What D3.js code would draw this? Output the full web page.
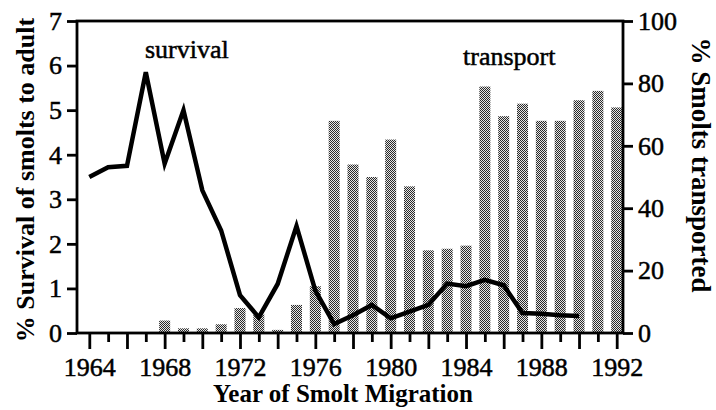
<!DOCTYPE html>
<html>
<head>
<meta charset="utf-8">
<script src="https://cdn.jsdelivr.net/npm/d3@7"></script>
<style>
  body { margin: 0; background: #fff; }
  svg { display: block; }
</style>
</head>
<body>
<div class="wrapper"></div>
<script>
//Data
var survivalYears = [1964, 1965, 1966, 1967, 1968, 1969, 1970, 1971, 1972, 1973, 1974, 1975, 1976, 1977,
  1978, 1979, 1980, 1981, 1982, 1983, 1984, 1985, 1986, 1987, 1988, 1989, 1990];
var survival = [3.5, 3.72, 3.75, 5.85, 3.8, 5.0, 3.2, 2.3, 0.85, 0.35, 1.1, 2.4, 0.95, 0.2,
  0.4, 0.63, 0.33, 0.48, 0.63, 1.11, 1.05, 1.19, 1.07, 0.45, 0.43, 0.4, 0.38];
var transportYears = [1968, 1969, 1970, 1971, 1972, 1973, 1974, 1975, 1976, 1977, 1978, 1979, 1980,
  1981, 1982, 1983, 1984, 1985, 1986, 1987, 1988, 1989, 1990, 1991, 1992];
var transport = [4, 1.5, 1.5, 2.8, 8, 6, 1, 9, 15, 68, 54, 50, 62,
  47, 26.5, 27, 28, 79, 69.5, 73.5, 68, 68, 74.6, 77.6, 72.3];
var yearLabels = [1964, 1968, 1972, 1976, 1980, 1984, 1988, 1992];
var leftTicks = [0, 1, 2, 3, 4, 5, 6, 7];
var rightTicks = [0, 20, 40, 60, 80, 100];

var W = 716, H = 410;
var serif = "'Liberation Serif', 'Times New Roman', serif";

var svg = d3.select(".wrapper").append("svg")
    .attr("width", W)
    .attr("height", H);

//Stipple pattern for the bars (checkerboard dither)
var pat = svg.append("defs").append("pattern")
    .attr("id", "stipple")
    .attr("patternUnits", "userSpaceOnUse")
    .attr("width", 2)
    .attr("height", 2);
pat.append("rect").attr("width", 2).attr("height", 2).attr("fill", "#e6e6e6");
pat.append("rect").attr("x", 0).attr("y", 0).attr("width", 1).attr("height", 1).attr("fill", "#2a2a2a");
pat.append("rect").attr("x", 1).attr("y", 1).attr("width", 1).attr("height", 1).attr("fill", "#2a2a2a");

//Plot box (window.top is read-only, so keep these in an object)
var box = {left: 77, right: 623, top: 21, bottom: 333};
var x = d3.scaleLinear().domain([1964, 1992]).range([89.3, 616.7]);
var yL = d3.scaleLinear().domain([0, 7]).range([box.bottom, box.top]);
var yR = d3.scaleLinear().domain([0, 100]).range([box.bottom, box.top]);

//Bars (transport)
var barW = 11;
svg.selectAll(".bar")
    .data(transport)
    .enter().append("rect")
    .attr("class", "bar")
    .attr("x", function(d, i) { return x(transportYears[i]) - barW / 2; })
    .attr("y", function(d) { return yR(d); })
    .attr("width", barW)
    .attr("height", function(d) { return box.bottom - yR(d); })
    .attr("fill", "url(#stipple)");

//Survival line
var line = d3.line()
    .x(function(d, i) { return x(survivalYears[i]); })
    .y(function(d) { return yL(d); });
svg.append("path")
    .datum(survival)
    .attr("d", line)
    .attr("fill", "none")
    .attr("stroke", "#000")
    .attr("stroke-width", 4.5)
    .attr("stroke-linejoin", "miter");

//Frame
svg.append("rect")
    .attr("x", box.left)
    .attr("y", box.top)
    .attr("width", box.right - box.left)
    .attr("height", box.bottom - box.top)
    .attr("fill", "none")
    .attr("stroke", "#000")
    .attr("stroke-width", 2.8);

//Axes
function styleAxis(g) {
  g.select(".domain").remove();
  g.selectAll("line").attr("stroke", "#000").attr("stroke-width", 2.8);
  g.selectAll("text")
    .attr("fill", "#000")
    .attr("stroke", "#000")
    .attr("stroke-width", 0.5)
    .style("font-family", serif)
    .style("font-size", "26px");
}

svg.append("g")
    .attr("transform", "translate(" + box.left + ",0)")
    .call(d3.axisLeft(yL).tickValues(leftTicks).tickSize(10).tickPadding(5).tickFormat(d3.format("d")))
    .call(styleAxis);

svg.append("g")
    .attr("transform", "translate(" + box.right + ",0)")
    .call(d3.axisRight(yR).tickValues(rightTicks).tickSize(10).tickPadding(5).tickFormat(d3.format("d")))
    .call(styleAxis);

var xAxis = svg.append("g")
    .attr("transform", "translate(0," + box.bottom + ")")
    .call(d3.axisBottom(x).tickValues(d3.range(1964, 1993)).tickSize(16).tickPadding(9)
      .tickFormat(function(d) { return yearLabels.indexOf(d) >= 0 ? d : ""; }))
    .call(styleAxis);
xAxis.selectAll(".tick line")
    .attr("y2", function(d) { return d % 2 === 0 ? 16 : 9; });

//Titles
svg.append("text")
    .attr("transform", "translate(34,180) rotate(-90)")
    .attr("text-anchor", "middle")
    .style("font-family", serif)
    .style("font-weight", "bold")
    .style("font-size", "26px")
    .text("% Survival of smolts to adult");

svg.append("text")
    .attr("transform", "translate(692,165) rotate(90)")
    .attr("text-anchor", "middle")
    .style("font-family", serif)
    .style("font-weight", "bold")
    .style("font-size", "27px")
    .text("% Smolts transported");

svg.append("text")
    .attr("x", 343)
    .attr("y", 402)
    .attr("text-anchor", "middle")
    .style("font-family", serif)
    .style("font-weight", "bold")
    .style("font-size", "25px")
    .text("Year of Smolt Migration");

//Series labels
svg.selectAll(".series-label")
    .data([["survival", 145, 58], ["transport", 463, 65]])
    .enter().append("text")
    .attr("class", "series-label")
    .attr("x", function(d) { return d[1]; })
    .attr("y", function(d) { return d[2]; })
    .attr("stroke", "#000")
    .attr("stroke-width", 0.5)
    .style("font-family", serif)
    .style("font-size", "26px")
    .text(function(d) { return d[0]; });
</script>
</body>
</html>
